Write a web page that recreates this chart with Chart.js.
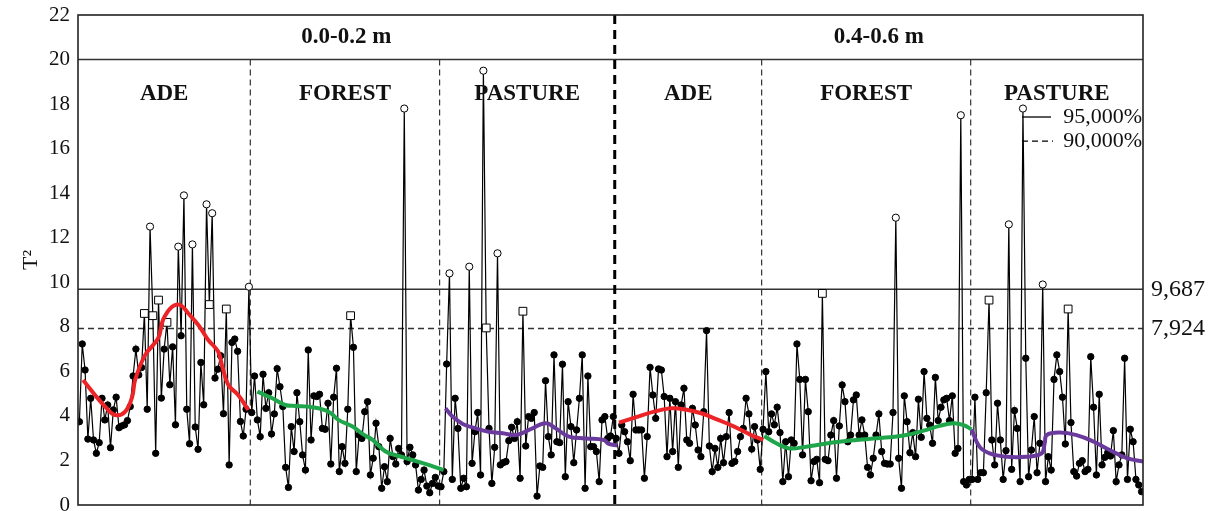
<!DOCTYPE html>
<html>
<head>
<meta charset="utf-8">
<script src="https://cdn.jsdelivr.net/npm/chart.js@4.4.0/dist/chart.umd.min.js"></script>
<style>
  html, body { margin: 0; padding: 0; background: #fff; }
</style>
</head>
<body>
<canvas id="myChart" width="1216" height="511"></canvas>
<script>
// section names and depth labels
var groups = ['ADE', 'FOREST', 'PASTURE', 'ADE', 'FOREST', 'PASTURE'];
var depths = ['0.0-0.2 m', '0.4-0.6 m'];
var yTicks = [0, 2, 4, 6, 8, 10, 12, 14, 16, 18, 20, 22];
var limit95 = 9.687;
var limit90 = 7.924;

// T2 values per section, in observation order
var ade1 = [3.74, 7.23, 6.06, 2.96, 4.79, 2.92, 2.32, 2.80, 4.79, 3.82, 4.49, 2.57, 4.27, 4.84, 3.47, 3.55, 3.6, 3.79, 4.42, 5.79,
  7.0, 5.84, 6.17, 8.6, 4.3, 12.5, 8.5, 2.32, 9.2, 4.8, 7.0, 8.2, 5.4, 7.1, 3.6, 11.6, 7.6, 13.9, 4.3, 2.75,
  11.7, 3.5, 2.5, 6.4, 4.5, 13.5, 9.0, 13.1, 5.7, 6.1, 6.7, 4.1, 8.8, 1.8, 7.3, 7.45, 6.9, 3.75, 3.1, 4.3, 9.8];
var forest1 = [4.15, 5.79, 3.82, 3.07, 5.87, 4.34, 5.04, 3.19, 4.09, 6.12, 5.31, 4.42, 1.69, 0.79, 3.52, 2.40, 5.04, 3.74, 2.25, 1.57,
  6.96, 2.92, 4.90, 4.87, 4.97, 3.44, 3.40, 4.57, 1.84, 4.84, 6.14, 1.50, 2.62, 1.87, 4.30, 8.5, 7.08, 1.50, 3.14, 2.99,
  4.19, 4.64, 1.35, 2.10, 3.67, 2.62, 0.75, 1.72, 1.05, 2.99, 2.17, 1.84, 2.54, 2.25, 17.8, 1.95, 2.59, 2.25, 1.80, 0.67,
  1.15, 1.57, 0.85, 0.55, 0.97, 1.24, 0.85];
var pasture1 = [0.82, 1.50, 6.33, 10.4, 1.15, 4.79, 3.44, 0.75, 1.20, 0.82, 10.7, 1.87, 3.29, 4.15, 1.35, 19.5, 7.95, 3.44, 0.97, 2.59,
  11.3, 1.80, 1.90, 1.95, 2.89, 3.49, 2.99, 3.74, 1.20, 8.7, 2.65, 3.97, 3.89, 4.15, 0.40, 1.75, 1.69, 5.58, 3.07, 2.25,
  6.74, 2.84, 2.80, 6.32, 1.27, 4.64, 3.52, 1.90, 3.37, 4.79, 6.74, 0.75, 5.79, 2.62, 2.62, 2.40, 1.05, 3.82, 3.97, 2.99,
  3.1, 3.97];
var ade2 = [2.99, 2.32, 3.59, 3.29, 2.84, 1.99, 4.97, 3.37, 3.37, 3.37, 1.20, 3.07, 6.18, 4.94, 3.89, 6.11, 6.06, 4.87, 2.17, 4.79,
  2.40, 4.64, 1.69, 4.49, 5.24, 2.92, 2.77, 4.34, 3.59, 2.47, 2.17, 4.19, 7.83, 2.65, 1.50, 2.54, 1.69, 2.99, 1.90, 3.07,
  4.15, 1.87, 1.95, 2.40, 3.07, 3.44, 4.79, 4.09, 2.51, 3.52, 2.92, 1.60];
var forest2 = [3.40, 5.99, 3.29, 4.09, 3.6, 4.39, 3.25, 1.05, 2.84, 1.27, 2.92, 2.77, 7.23, 5.64, 2.25, 5.64, 4.19, 1.09, 1.95, 2.05,
  1.00, 9.5, 2.05, 1.99, 3.14, 3.79, 1.20, 3.55, 5.39, 4.64, 2.84, 3.14, 4.72, 4.94, 3.14, 3.82, 3.14, 1.69, 1.35, 2.10,
  3.14, 4.09, 2.40, 1.87, 1.84, 1.84, 4.15, 12.9, 2.10, 0.75, 4.90, 3.74, 2.35, 3.25, 2.17, 4.75, 3.04, 5.99, 3.89, 3.59,
  2.77, 5.73, 3.79, 4.39, 4.72, 4.79, 3.79, 4.90, 2.32, 2.54, 17.5, 1.05, 0.90, 1.15];
var pasture2 = [1.15, 4.84, 1.15, 1.45, 1.45, 5.04, 9.2, 2.92, 1.80, 4.57, 2.92, 1.15, 2.44, 12.6, 1.60, 4.24, 3.44, 1.05, 17.8, 6.59,
  1.27, 2.47, 3.97, 1.45, 2.77, 9.9, 1.05, 2.17, 1.57, 5.64, 6.74, 5.99, 4.84, 2.74, 8.8, 3.70, 1.50, 1.30, 1.87, 1.99,
  1.50, 1.60, 6.66, 4.39, 1.35, 4.97, 1.80, 2.14, 2.35, 2.20, 3.34, 1.05, 1.80, 2.25, 6.59, 1.15, 3.40, 2.84, 1.15, 0.90,
  0.60];

// smoothed trend per section: [observation, T2]
var trendAde1 = [[1.3, 5.61], [5.5, 4.94], [9.1, 4.42], [12.6, 4.04], [16.2, 4.19], [18.7, 4.87], [19.7, 5.61], [23.3, 6.74],
  [27.9, 7.49], [29.6, 8.31], [32.8, 8.9], [35.7, 8.98], [38.5, 8.61], [42.1, 8.08], [45.6, 7.41], [49.1, 6.89],
  [50.6, 6.21], [52.7, 5.39], [56.2, 4.94], [59.8, 4.27]];
var trendForest1 = [[63.0, 5.09], [68.3, 4.79], [72.9, 4.49], [76.5, 4.45], [82.5, 4.39], [88.2, 4.19], [91.7, 3.82],
  [96.7, 3.52], [100.2, 3.19], [103.8, 2.92], [108.4, 2.40], [113.0, 2.20], [117.9, 2.02], [123.6, 1.80], [128.9, 1.57]];
var trendPasture1 = [[129.6, 4.34], [132.1, 3.97], [135.7, 3.64], [140.3, 3.44], [144.9, 3.29], [149.9, 3.22], [154.5, 3.14],
  [159.1, 3.37], [165.1, 3.67], [168.6, 3.44], [173.3, 3.07], [179.3, 2.99], [185.7, 2.92], [187.4, 2.74], [190.5, 2.68]];
var trendAde2 = [[191.0, 3.70], [197.7, 3.97], [203.4, 4.19], [209.4, 4.34], [214.0, 4.30], [220.1, 4.12], [226.1, 3.82],
  [231.8, 3.52], [237.8, 3.14], [242.1, 2.92]];
var trendForest2 = [[242.4, 3.10], [246.7, 2.77], [251.3, 2.54], [257.3, 2.62], [263.3, 2.74], [269.0, 2.84], [275.0, 2.92],
  [281.1, 2.99], [286.7, 3.04], [292.8, 3.14], [298.8, 3.34], [304.5, 3.55], [309.4, 3.67], [313.0, 3.59], [315.8, 3.40]];
var trendPasture2 = [[315.8, 3.40], [318.6, 2.62], [322.2, 2.32], [328.2, 2.17], [335.3, 2.17], [340.6, 2.32], [341.7, 2.77],
  [342.4, 3.14], [347.0, 3.25], [353.0, 3.14], [359.1, 2.84], [364.7, 2.47], [370.8, 2.10], [376.5, 1.95]];

var sections = [ade1, forest1, pasture1, ade2, forest2, pasture2];
var trends = [trendAde1, trendForest1, trendPasture1, trendAde2, trendForest2, trendPasture2];
var trendColors = ['#ec2327', '#1fa64b', '#6a3b9c', '#ec2327', '#1fa64b', '#6a3b9c'];

// one running observation number across all sections
var points = [];
var bounds = [];
sections.forEach(function (s) {
  s.forEach(function (v) { points.push({ x: points.length, y: v }); });
  bounds.push(points.length - 0.5);
});
var xMin = -0.5, xMax = points.length - 0.5;

var datasets = trends.map(function (t, i) {
  return {
    data: t.map(function (p) { return { x: p[0], y: p[1] }; }),
    borderColor: trendColors[i],
    borderWidth: 4,
    pointRadius: 0,
    tension: 0.4,
    order: 0
  };
});
datasets.push({
  data: points,
  borderColor: '#000',
  borderWidth: 1.2,
  tension: 0,
  order: 1,
  pointStyle: function (c) { var v = c.raw.y; return v > limit90 && v <= limit95 ? 'rect' : 'circle'; },
  pointRadius: function (c) { var v = c.raw.y; return v > limit95 ? 3.6 : (v > limit90 ? 5.5 : 3.2); },
  pointBackgroundColor: function (c) { return c.raw.y > limit90 ? '#fff' : '#000'; },
  pointBorderColor: '#000',
  pointBorderWidth: 1
});

var serif = "'Liberation Serif', 'Times New Roman', serif";

function hline(c, x1, x2, y) { c.beginPath(); c.moveTo(x1, y); c.lineTo(x2, y); c.stroke(); }
function vline(c, x, y1, y2) { c.beginPath(); c.moveTo(x, y1); c.lineTo(x, y2); c.stroke(); }

var overlay = {
  id: 'overlay',
  beforeDatasetsDraw: function (chart) {
    var c = chart.ctx, a = chart.chartArea, xs = chart.scales.x, ys = chart.scales.y;
    c.save();
    c.strokeStyle = '#333';
    c.lineWidth = 1.6;
    hline(c, a.left, a.right, ys.getPixelForValue(limit95));
    hline(c, a.left, a.right, ys.getPixelForValue(20));
    c.setLineDash([6, 4]);
    c.lineWidth = 1.3;
    hline(c, a.left, a.right, ys.getPixelForValue(limit90));
    // section dividers
    c.lineWidth = 1.2;
    [0, 1, 3, 4].forEach(function (i) {
      var x = xs.getPixelForValue(bounds[i]);
      vline(c, x, ys.getPixelForValue(20), a.bottom);
    });
    // depth divider
    c.setLineDash([9, 6]);
    c.lineWidth = 3;
    c.strokeStyle = '#000';
    vline(c, xs.getPixelForValue(bounds[2]), a.top, a.bottom);
    c.restore();
  },
  afterDraw: function (chart) {
    var c = chart.ctx, a = chart.chartArea, xs = chart.scales.x, ys = chart.scales.y;
    c.save();
    // frame
    c.strokeStyle = '#222';
    c.lineWidth = 1.6;
    c.strokeRect(a.left, a.top, a.right - a.left, a.bottom - a.top);

    c.fillStyle = '#111';
    c.textBaseline = 'middle';
    c.textAlign = 'center';
    c.font = 'bold 23px ' + serif;
    var dStart = [xMin, bounds[2]], dEnd = [bounds[2], xMax];
    depths.forEach(function (d, i) {
      c.fillText(d, xs.getPixelForValue((dStart[i] + dEnd[i]) / 2), ys.getPixelForValue(21));
    });
    groups.forEach(function (g, i) {
      var s = i === 0 ? xMin : bounds[i - 1];
      c.fillText(g, xs.getPixelForValue((s + bounds[i]) / 2), ys.getPixelForValue(18.45));
    });

    // limit values on the right
    c.font = '24px ' + serif;
    c.textAlign = 'left';
    c.fillText('9,687', a.right + 8, ys.getPixelForValue(limit95));
    c.fillText('7,924', a.right + 8, ys.getPixelForValue(limit90));

    // legend
    c.font = '22px ' + serif;
    c.textAlign = 'right';
    var y1 = ys.getPixelForValue(17.42), y2 = ys.getPixelForValue(16.34);
    c.fillText('95,000%', a.right - 1, y1);
    c.fillText('90,000%', a.right - 1, y2);
    c.strokeStyle = '#000';
    c.lineWidth = 1.3;
    hline(c, a.right - 121, a.right - 92, y1);
    c.setLineDash([6, 4]);
    hline(c, a.right - 121, a.right - 90, y2);
    c.restore();
  }
};

var ctx = document.getElementById('myChart').getContext('2d');
var myChart = new Chart(ctx, {
  type: 'line',
  data: { datasets: datasets },
  options: {
    responsive: false,
    animation: false,
    layout: { padding: { top: 15, right: 73, bottom: 6, left: 0 } },
    plugins: { legend: { display: false }, tooltip: { enabled: false } },
    scales: {
      x: { type: 'linear', min: xMin, max: xMax, display: false },
      y: {
        min: 0,
        max: 22,
        afterFit: function (s) { s.width = 78; s.paddingTop = 0; s.paddingBottom = 0; },
        afterBuildTicks: function (s) { s.ticks = yTicks.map(function (v) { return { value: v }; }); },
        grid: { display: false },
        border: { display: false },
        ticks: { color: '#111', padding: 0, font: { family: serif, size: 21 } },
        title: { display: true, text: 'T²', color: '#111', padding: { top: 18, bottom: 0 }, font: { family: serif, size: 22 } }
      }
    }
  },
  plugins: [overlay]
});
</script>
</body>
</html>
